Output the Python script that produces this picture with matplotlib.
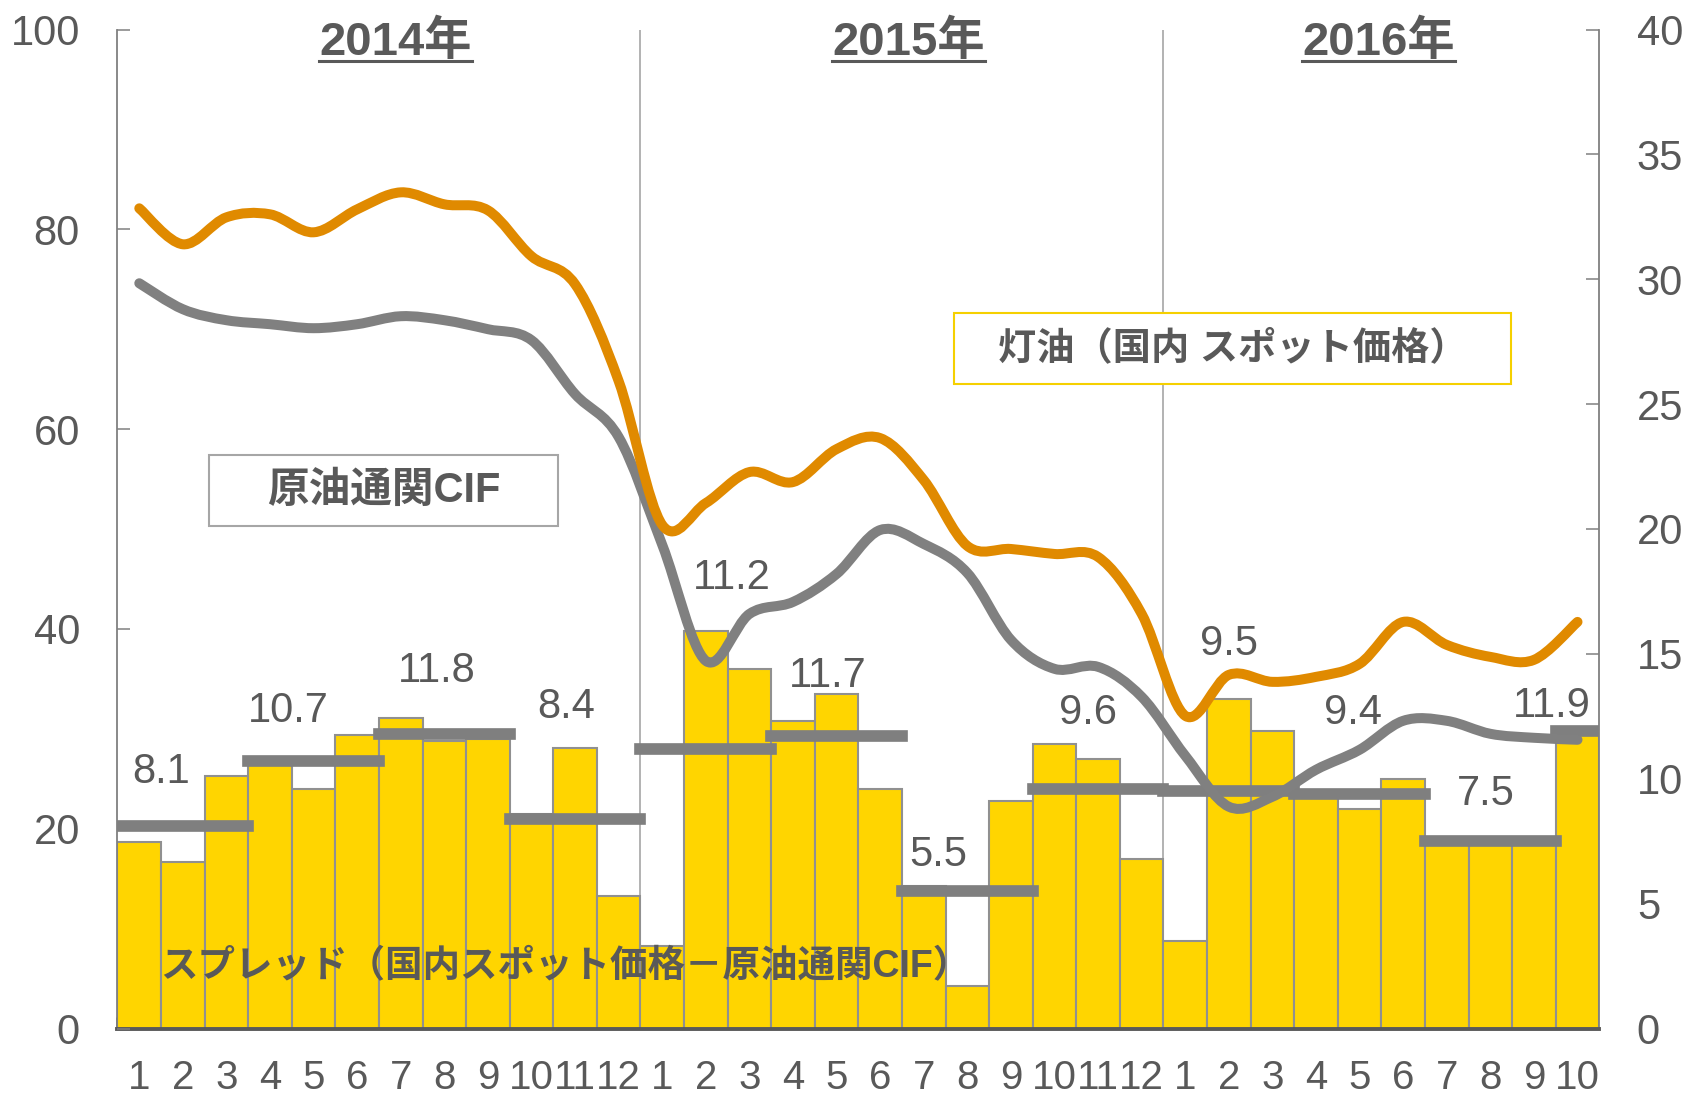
import numpy as np
import matplotlib
matplotlib.use('Agg')
import matplotlib.pyplot as plt
from matplotlib.path import Path
from matplotlib.patches import PathPatch, Rectangle
from matplotlib.lines import Line2D

plt.rcParams['font.family'] = ['Liberation Sans', 'Noto Sans CJK JP', 'DejaVu Sans']

# ---------------- data ----------------
months = ['1', '2', '3', '4', '5', '6', '7', '8', '9', '10', '11', '12',
          '1', '2', '3', '4', '5', '6', '7', '8', '9', '10', '11', '12',
          '1', '2', '3', '4', '5', '6', '7', '8', '9', '10']
years = ['2014年', '2015年', '2016年']

# spread (right axis)
spread = [7.45, 6.65, 10.1, 10.6, 9.6, 11.75, 12.45, 11.5, 11.6, 8.6, 11.25, 5.3,
          3.3, 15.9, 14.4, 12.3, 13.4, 9.6, 5.7, 1.7, 9.1, 11.4, 10.8, 6.8,
          3.5, 13.2, 11.9, 9.4, 8.8, 10.0, 7.6, 7.4, 7.5, 11.9]

# kerosene domestic spot price (left axis)
kerosene = [82.1, 78.5, 81.2, 81.5, 79.7, 82.0, 83.7, 82.5, 81.9, 77.3, 74.5, 64.8,
            50.4, 52.6, 55.7, 54.7, 58.0, 59.1, 54.9, 48.3, 48.0, 47.5, 47.2, 41.5,
            31.3, 35.4, 34.7, 35.2, 36.5, 40.7, 38.4, 37.2, 36.9, 40.7]

# crude oil customs CIF (left axis)
crude_cif = [74.6, 72.0, 70.9, 70.5, 70.1, 70.5, 71.3, 70.9, 70.0, 68.9, 63.5, 59.2,
             48.4, 36.8, 41.5, 42.7, 45.5, 49.9, 48.5, 45.6, 38.9, 36.0, 36.2, 33.2,
             27.3, 22.2, 23.2, 25.9, 27.9, 30.8, 30.8, 29.5, 29.1, 28.9]

# quarterly average spread
quarter_avg = [8.1, 10.7, 11.8, 8.4, 11.2, 11.7, 5.5, 9.6, 9.5, 9.4, 7.5, 11.9]
quarter_first = [0, 3, 6, 9, 12, 15, 18, 21, 24, 27, 30, 33]
quarter_last = [2, 5, 8, 11, 14, 17, 20, 23, 26, 29, 32, 33]
quarter_text = ['8.1', '10.7', '11.8', '8.4', '11.2', '11.7', '5.5', '9.6', '9.5', '9.4', '7.5', '11.9']

# label layout (x in month index, y baseline in right-axis units)
label_x = [0.49, 3.41, 6.83, 9.80, 13.59, 15.79, 18.34, 21.76, 25.01, 27.84, 30.9, 32.41]
label_y = [9.84, 12.27, 13.86, 12.45, 17.61, 13.69, 6.49, 12.21, 14.94, 12.21, 8.94, 12.47]

# ---------------- style ----------------
TXT = '#595959'
YELLOW = '#FFD500'
ORANGE = '#E08A00'
GRAY = '#808080'

W, H = 1690, 1099
fig = plt.figure(figsize=(W / 100, H / 100), dpi=100)

left_px, right_px, top_px, bot_px = 117.5, 1599.3, 29.5, 1028.5
ax = fig.add_axes([left_px / W, (H - bot_px) / H, (right_px - left_px) / W, (bot_px - top_px) / H])

x = np.arange(len(spread))

# bars (right axis)
ax.bar(x, spread, width=1.0, color=YELLOW, edgecolor='#909090', linewidth=1.5, zorder=2)
ax.set_xlim(-0.5, len(spread) - 0.5)
ax.set_ylim(0, 40)

# year dividers
for b in [11.5, 23.5]:
    ax.axvline(b, color='#A6A6A6', lw=1.2, zorder=1.5)

# quarterly averages
for s, e, v in zip(quarter_first, quarter_last, quarter_avg):
    ax.plot([s - 0.5, e + 0.5], [v, v], color='#7F7F7F', lw=8.4,
            solid_capstyle='projecting', zorder=4)
for tx, ty, t in zip(label_x, label_y, quarter_text):
    ax.text(tx, ty, t, ha='center', va='baseline', fontsize=30, color=TXT, zorder=6)

# x ticks: month labels as minor ticks, year boundaries as major ticks
ax.set_xticks([-0.5, 11.5, 23.5])
ax.set_xticklabels(['', '', ''])
ax.set_xticks(x, minor=True)
ax.set_xticklabels(months, minor=True)
ax.tick_params(axis='x', which='minor', length=0, labelsize=29, labelcolor=TXT, pad=22)
ax.tick_params(axis='x', which='major', direction='in', length=9, width=2, color=TXT)

ax.spines['top'].set_visible(False)
for side in ['left', 'right']:
    ax.spines[side].set_color('#808080')
    ax.spines[side].set_linewidth(1.3)
ax.spines['bottom'].set_color(TXT)
ax.spines['bottom'].set_linewidth(2.8)

# left axis with lines
ax_l = ax.twinx()
ax_l.set_ylim(0, 100)
ax_l.yaxis.tick_left()
ax_l.set_yticks(np.arange(0, 101, 20))
ax_l.tick_params(axis='y', direction='in', length=9.5, width=1.1, color='#808080',
                 labelsize=30, labelcolor=TXT, pad=27)
for sp in ax_l.spines.values():
    sp.set_visible(False)

# right axis styling (after twinx, which resets tick side)
ax.yaxis.tick_right()
ax.set_yticks(np.arange(0, 41, 5))
ax.tick_params(axis='y', which='major', direction='in', length=9.5, width=1.1,
               color='#808080', labelsize=30, labelcolor=TXT, pad=27,
               left=False, labelleft=False, right=True, labelright=True)


def smooth_path(xs, ys):
    pts = np.column_stack([xs, ys]).astype(float)
    n = len(pts)
    verts = [pts[0]]
    codes = [Path.MOVETO]
    for i in range(n - 1):
        p0 = pts[i - 1] if i > 0 else pts[i]
        p1 = pts[i]
        p2 = pts[i + 1]
        p3 = pts[i + 2] if i + 2 < n else pts[i + 1]
        c1 = p1 + (p2 - p0) / 6.0
        c2 = p2 - (p3 - p1) / 6.0
        verts += [c1, c2, p2]
        codes += [Path.CURVE4] * 3
    return Path(verts, codes)


ax_l.add_patch(PathPatch(smooth_path(x, crude_cif), facecolor='none', edgecolor=GRAY,
                         lw=7.2, capstyle='round', joinstyle='round', zorder=3))
ax_l.add_patch(PathPatch(smooth_path(x, kerosene), facecolor='none', edgecolor=ORANGE,
                         lw=7.2, capstyle='round', joinstyle='round', zorder=4))


# text boxes
def fx(px):
    return px / W


def fy(py):
    return 1 - py / H


fig.add_artist(Rectangle((fx(209), fy(526)), fx(558) - fx(209), fy(455) - fy(526),
                         transform=fig.transFigure, facecolor='white',
                         edgecolor='#A6A6A6', lw=1.5, zorder=5))
fig.text(fx(383.5), fy(491), '原油通関CIF', ha='center', va='center', fontsize=30,
         fontweight='bold', color=TXT, zorder=6)

fig.add_artist(Rectangle((fx(954), fy(384)), fx(1511) - fx(954), fy(313) - fy(384),
                         transform=fig.transFigure, facecolor='white',
                         edgecolor='#F5D000', lw=1.5, zorder=5))
fig.text(fx(1232.5), fy(349), '灯油（国内 スポット価格）', ha='center', va='center',
         fontsize=27.5, fontweight='bold', color=TXT, zorder=6)

fig.text(fx(160), fy(967), 'スプレッド（国内スポット価格－原油通関CIF）', ha='left',
         va='center', fontsize=27, fontweight='bold', color=TXT, zorder=6)

# year labels with underline
year_x = [395.5, 908.5, 1378.5]
year_texts = []
for yx, yt in zip(year_x, years):
    year_texts.append(fig.text(fx(yx), fy(55), yt, ha='center', va='baseline',
                               fontsize=34, fontweight='bold', color=TXT, zorder=6))
fig.canvas.draw()
renderer = fig.canvas.get_renderer()
for t in year_texts:
    bb = t.get_window_extent(renderer)
    fig.add_artist(Line2D([bb.x0 / W, bb.x1 / W], [fy(61), fy(61)],
                          transform=fig.transFigure, color=TXT, lw=2.2, zorder=6))

fig.savefig('out.png', dpi=100)
